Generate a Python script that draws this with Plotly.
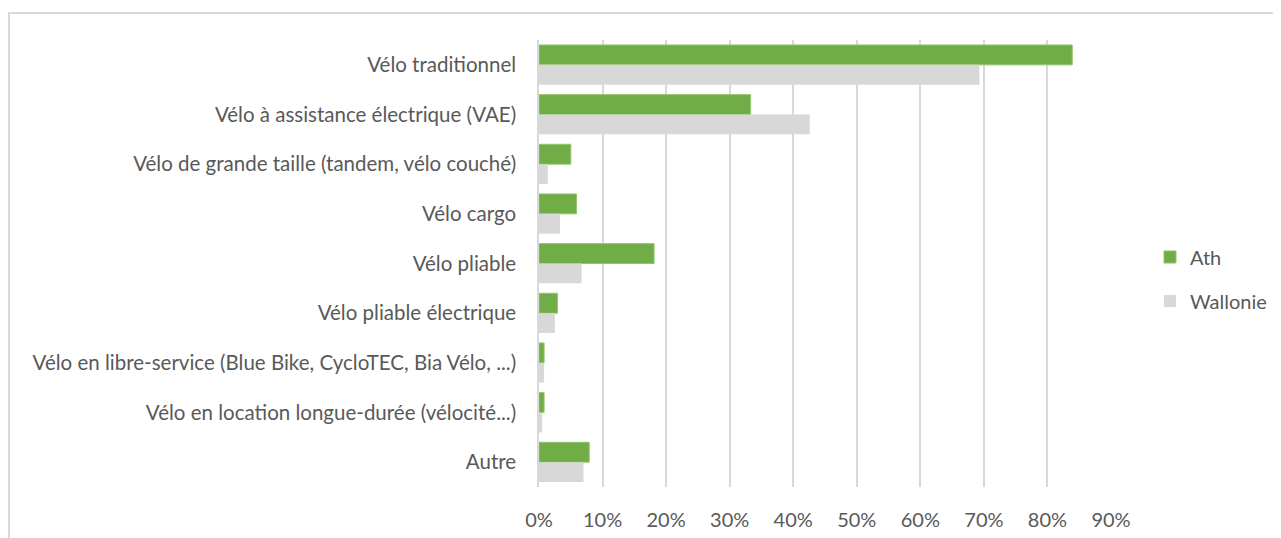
import plotly.graph_objects as go

categories = [
    "Vélo traditionnel",
    "Vélo à assistance électrique (VAE)",
    "Vélo de grande taille (tandem, vélo couché)",
    "Vélo cargo",
    "Vélo pliable",
    "Vélo pliable électrique",
    "Vélo en libre-service (Blue Bike, CycloTEC, Bia Vélo, ...)",
    "Vélo en location longue-durée (vélocité...)",
    "Autre",
]
ath = [0.839, 0.333, 0.050, 0.059, 0.181, 0.029, 0.008, 0.008, 0.079]
wallonie = [0.693, 0.426, 0.014, 0.033, 0.067, 0.025, 0.008, 0.005, 0.070]
x_ticks = [0, 0.1, 0.2, 0.3, 0.4, 0.5, 0.6, 0.7, 0.8, 0.9]
x_ticklabels = ["0%", "10%", "20%", "30%", "40%", "50%", "60%", "70%", "80%", "90%"]

# page body has an 8px margin: work in page pixels, convert to figure pixels
OFF = 8
W, H = 1281 - OFF, 538 - OFF
L, R, T, B = 539 - OFF, 1281 - 1111, 40 - OFF, 538 - 487
pw, ph = W - L - R, H - T - B

FAM = "Lato, Carlito, 'Open Sans', sans-serif"
GREY = "#595959"
font_y = dict(family=FAM, size=20.5, color=GREY)
font_x = dict(family=FAM, size=20, color=GREY)

fig = go.Figure()
fig.add_trace(go.Bar(y=categories, x=ath, name="Ath", orientation="h", legendgroup="a",
                     marker=dict(color="#70AD47", line=dict(color="#8fc46a", width=1))))
fig.add_trace(go.Bar(y=categories, x=wallonie, name="Wallonie", orientation="h", legendgroup="w",
                     marker=dict(color="#D9D8D9", line=dict(width=0))))

def px_x(p):  # page px -> paper
    return (p - OFF - L) / pw

def px_y(p):
    return 1 - (p - OFF - T) / ph

fig.update_layout(
    width=W, height=H,
    margin=dict(l=L, r=R, t=T, b=B, autoexpand=False),
    paper_bgcolor="white", plot_bgcolor="white",
    font=font_x,
    barmode="group", bargap=0.2, bargroupgap=0,
    xaxis=dict(range=[0, 0.9], tickvals=x_ticks, ticktext=x_ticklabels,
               showgrid=True, gridcolor="#d9d9d9", gridwidth=1.5,
               zeroline=False, showline=False,
               ticks="outside", ticklen=15, tickcolor="rgba(0,0,0,0)",
               tickfont=font_x, fixedrange=True),
    yaxis=dict(autorange="reversed", showgrid=False, zeroline=False,
               showline=True, linecolor="#d9d9d9", linewidth=1.5,
               ticks="outside", ticklen=17, tickcolor="rgba(0,0,0,0)",
               tickfont=font_y, fixedrange=True),
    legend=dict(x=px_x(1150), y=px_y(279), xanchor="left", yanchor="middle",
                font=font_x, traceorder="grouped", tracegroupgap=15,
                itemwidth=30, bgcolor="rgba(0,0,0,0)"),
    shapes=[
        dict(type="line", xref="paper", yref="paper",
             x0=px_x(8), x1=px_x(1290), y0=px_y(13), y1=px_y(13),
             line=dict(color="#d9d9d9", width=2)),
        dict(type="line", xref="paper", yref="paper",
             x0=px_x(9), x1=px_x(9), y0=px_y(13), y1=px_y(545),
             line=dict(color="#d9d9d9", width=2)),
    ],
)

fig.write_html("out.html")
